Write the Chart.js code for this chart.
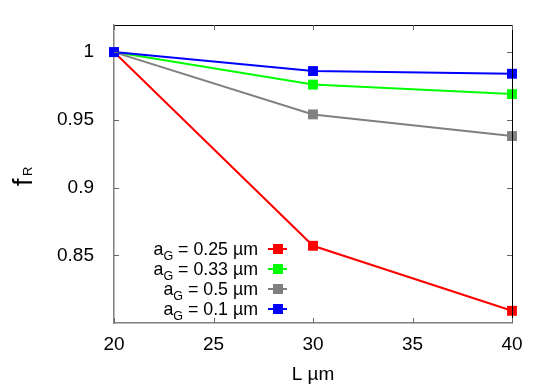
<!DOCTYPE html>
<html>
<head>
<meta charset="utf-8">
<script src="https://cdn.jsdelivr.net/npm/chart.js@4/dist/chart.umd.min.js"></script>
<style>
html,body{margin:0;padding:0;background:#fff;}
canvas{display:block;}
</style>
</head>
<body>
<canvas id="c" width="554" height="388"></canvas>
<script>
const lengths = [20, 30, 40];
const sizeLabels = ['0.25', '0.33', '0.5', '0.1'];
const fR_025 = [1, 0.857, 0.809];
const fR_033 = [1, 0.976, 0.969];
const fR_05 = [1, 0.954, 0.938];
const fR_01 = [1, 0.986, 0.984];
const seriesColors = ['#ff0000', '#00ff00', '#808080', '#0000ff'];
const xTicks = [20, 25, 30, 35, 40];
const yTicks = [0.85, 0.9, 0.95, 1];
const xTitle = 'L µm';

const FONT = '"Liberation Sans", Arial, Helvetica, sans-serif';
const allSeries = [fR_025, fR_033, fR_05, fR_01];

const datasets = allSeries.map((vals, i) => ({
  label: 'a_G = ' + sizeLabels[i] + ' µm',
  data: lengths.map((x, j) => ({x: x, y: vals[j]})),
  borderColor: seriesColors[i],
  backgroundColor: seriesColors[i],
  borderWidth: 2,
  pointStyle: 'rect',
  pointRadius: 7,
  pointBorderWidth: 0,
  clip: false,
  tension: 0,
  order: allSeries.length - i
}));

const framePlugin = {
  id: 'frame',
  afterDraw(chart) {
    const ctx = chart.ctx;
    const a = chart.chartArea;
    const xs = chart.scales.x, ys = chart.scales.y;
    ctx.save();
    // top & right frame
    ctx.strokeStyle = '#000';
    ctx.lineWidth = 1;
    ctx.beginPath();
    ctx.moveTo(a.left, a.top + 0.5);
    ctx.lineTo(a.right + 0.5, a.top + 0.5);
    ctx.lineTo(a.right + 0.5, a.bottom);
    ctx.stroke();
    // inward ticks
    const tl = 5;
    ctx.strokeStyle = '#666';
    ctx.beginPath();
    yTicks.forEach(v => {
      const y = Math.round(ys.getPixelForValue(v)) + 0.5;
      ctx.moveTo(a.left, y); ctx.lineTo(a.left + tl, y);
      ctx.moveTo(a.right, y); ctx.lineTo(a.right - tl, y);
    });
    xTicks.forEach(v => {
      const x = Math.round(xs.getPixelForValue(v)) + 0.5;
      ctx.moveTo(x, a.bottom); ctx.lineTo(x, a.bottom - tl);
      ctx.moveTo(x, a.top); ctx.lineTo(x, a.top + tl);
    });
    ctx.stroke();

    // x title
    ctx.fillStyle = '#000';
    ctx.font = '19px ' + FONT;
    ctx.textAlign = 'center';
    ctx.textBaseline = 'alphabetic';
    ctx.fillText(xTitle, (a.left + a.right) / 2, 380);

    // y title f_R
    ctx.save();
    ctx.translate(32, 186);
    ctx.rotate(-Math.PI / 2);
    ctx.textAlign = 'left';
    ctx.font = '27px ' + FONT;
    ctx.fillText('f', 0, 0);
    ctx.font = '13px ' + FONT;
    ctx.fillText('R', 10, 0);
    ctx.restore();

    // legend
    const textRight = 258;
    const lineX0 = 268, lineX1 = 287;
    const fs = 17.8, fsSub = 12.5;
    sizeLabels.forEach((lab, i) => {
      const cy = 249 + i * 20;
      const base = cy + 6;
      const main = ' = ' + lab + ' µm';
      ctx.textAlign = 'left';
      ctx.font = fs + 'px ' + FONT;
      const wMain = ctx.measureText(main).width;
      const wA = ctx.measureText('a').width;
      ctx.font = fsSub + 'px ' + FONT;
      const wG = ctx.measureText('G').width;
      let x = textRight - wMain - wG - wA;
      ctx.font = fs + 'px ' + FONT;
      ctx.fillText('a', x, base);
      ctx.font = fsSub + 'px ' + FONT;
      ctx.fillText('G', x + wA, base + 5);
      ctx.font = fs + 'px ' + FONT;
      ctx.fillText(main, x + wA + wG, base);
      ctx.strokeStyle = seriesColors[i];
      ctx.lineWidth = 2;
      ctx.beginPath();
      ctx.moveTo(lineX0, cy); ctx.lineTo(lineX1, cy);
      ctx.stroke();
      ctx.fillStyle = seriesColors[i];
      ctx.fillRect(278 - 5, cy - 5, 10, 10);
      ctx.fillStyle = '#000';
    });
    ctx.restore();
  }
};

new Chart(document.getElementById('c'), {
  type: 'line',
  data: { datasets: datasets },
  options: {
    responsive: false,
    devicePixelRatio: 1,
    animation: false,
    layout: { padding: { top: 25, right: 42, left: 0, bottom: 0 } },
    plugins: { legend: { display: false }, tooltip: { enabled: false } },
    scales: {
      x: {
        type: 'linear',
        min: 20, max: 40,
        afterBuildTicks: s => { s.ticks = xTicks.map(v => ({value: v})); },
        afterFit: s => { s.height = 65; },
        grid: { display: false },
        border: { display: true, color: '#808080', width: 1.5 },
        ticks: { color: '#000', font: { size: 19, family: FONT }, padding: 2, maxRotation: 0,
          callback: v => String(v) }
      },
      y: {
        type: 'linear',
        min: 0.8, max: 1.02,
        afterBuildTicks: s => { s.ticks = yTicks.map(v => ({value: v})); },
        afterFit: s => { s.width = 114; },
        grid: { display: false },
        border: { display: true, color: '#808080', width: 1.5 },
        ticks: { color: '#000', font: { size: 19, family: FONT }, padding: 12,
          callback: v => String(v) }
      }
    }
  },
  plugins: [framePlugin]
});
</script>
</body>
</html>
